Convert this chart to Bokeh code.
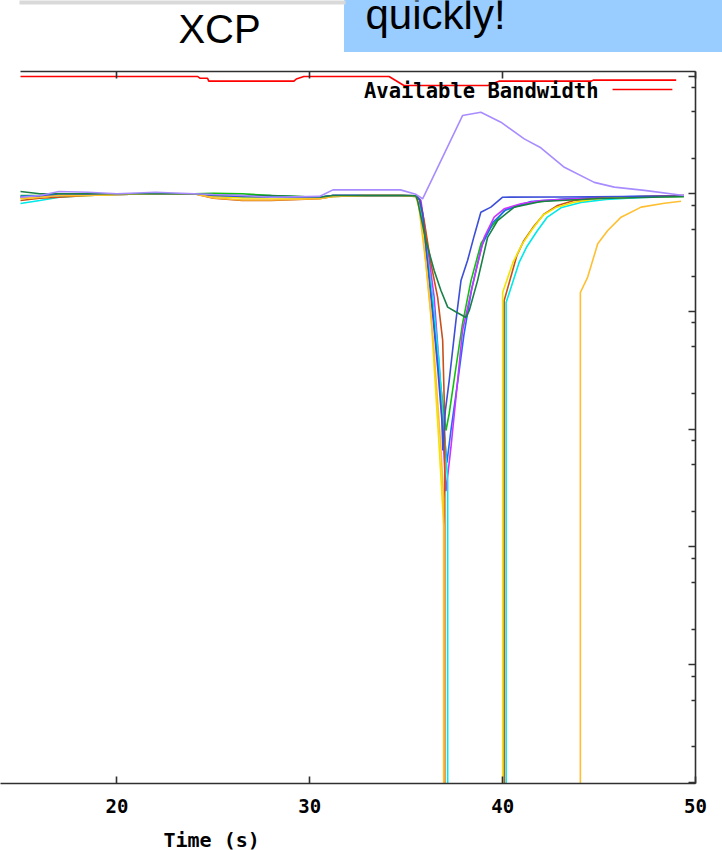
from bokeh.plotting import figure
from bokeh.layouts import column
from bokeh.models import Range1d, LinearAxis, FixedTicker, Label, CustomJSTickFormatter
from bokeh.embed import file_html
from bokeh.resources import INLINE
from bokeh.core.properties import value

# ---------------- data (time in s, throughput on log scale) ----------------
X_TICKS = [20, 30, 40, 50]
Y_MAJOR = [1e-4, 1e-3, 1e-2, 1e-1, 1, 10, 100]
Y_MINOR = [2e-4, 5e-4, 8e-4, 2e-3, 5e-3, 8e-3, 2e-2, 5e-2, 8e-2,
           0.2, 0.5, 0.8, 2, 5, 8, 20, 50, 80]

RED_X = [15.0, 24.19, 24.3, 24.7, 24.76, 29.18, 29.3, 29.69, 34.11, 34.88, 39.24, 39.81, 44.6, 44.7, 49.0]
RED_Y = [99.2, 99.2, 95.9, 95.9, 90.6, 90.6, 94.5, 99.2, 99.2, 83.2, 83.2, 90.6, 90.6, 92.5, 92.5]

T_FLAT = [15.0, 16.0, 17.0, 18.5, 20.0, 22.0, 24.0, 25.0, 26.5, 28.0, 30.5, 31.2, 33.0, 34.7, 35.5]

GREEN_FLAT = [9.67, 9.67, 9.85, 10.0, 10.0, 10.0, 10.0, 10.12, 10.0, 9.67, 9.36, 9.67, 9.67, 9.67, 9.6]
GREEN_X = [35.7, 35.93, 36.28, 36.54, 36.8, 37.06, 37.23, 37.58, 37.92, 38.36, 38.88, 39.4, 40.08, 41.1, 43.02, 46.14, 49.4]
GREEN_Y = [8.9, 4.27, 1.51, 0.567, 0.227, 0.0975, 0.136, 0.336, 0.79, 1.83, 3.78, 5.2, 7.21, 8.27, 8.95, 9.3, 9.48]

BLUE_FLAT = [9.5, 9.67, 9.85, 10.0, 9.85, 10.0, 10.0, 9.67, 9.36, 9.5, 9.36, 9.67, 9.67, 9.67, 9.5]
BLUE_X = [35.7, 35.92, 36.28, 36.59, 36.85, 37.11, 37.32, 37.68, 37.99, 38.4, 38.92, 39.49, 40.16, 41.46, 43.54, 46.65, 49.4]
BLUE_Y = [8.9, 4.87, 1.66, 0.52, 0.145, 0.052, 0.098, 0.26, 0.63, 1.57, 3.63, 5.7, 7.3, 8.6, 9.12, 9.48, 9.67]

MAGENTA_FLAT = [9.36, 9.5, 9.67, 9.85, 9.85, 10.0, 10.0, 9.5, 9.36, 9.36, 9.2, 9.67, 9.67, 9.67, 9.6]
MAGENTA_X = [35.76, 36.11, 36.45, 36.71, 36.89, 37.06, 37.32, 37.58, 37.92, 38.36, 38.7, 39.05, 39.56, 40.08, 40.95, 41.99, 44.06, 47.18, 49.4]
MAGENTA_Y = [8.8, 3.52, 1.32, 0.34, 0.098, 0.0297, 0.0703, 0.187, 0.69, 1.46, 2.54, 4.28, 6.33, 7.46, 8.22, 8.77, 9.12, 9.39, 9.67]

CYAN_FLAT = [8.27, 8.77, 9.36, 9.67, 9.85, 10.0, 10.0, 9.67, 9.36, 9.36, 9.2, 9.5, 9.67, 9.67, 9.5]
CYAN_X = [35.7, 35.92, 36.37, 36.71, 36.97, 37.15, 37.15, 40.18, 40.18, 40.85, 41.26, 41.78, 42.3, 43.02, 44.06, 45.36, 47.18, 49.4]
CYAN_Y = [8.9, 4.87, 1.32, 0.36, 0.098, 0.0364, 1e-7, 1e-7, 1.19, 2.6, 3.57, 4.8, 6.3, 7.6, 8.45, 8.95, 9.3, 9.48]

BROWN_FLAT = [8.77, 9.17, 9.36, 9.67, 9.85, 10.0, 10.0, 9.17, 8.77, 8.77, 9.07, 9.5, 9.67, 9.67, 9.6]
BROWN_X = [35.7, 35.93, 36.28, 36.63, 36.89, 36.97, 37.0, 37.0, 40.08, 40.08, 40.74, 41.1, 41.62, 42.16, 42.85, 43.7, 44.95, 47.18, 49.4]
BROWN_Y = [8.9, 5.93, 2.56, 1.32, 0.57, 0.18, 0.0708, 1e-7, 1e-7, 1.24, 3.0, 4.0, 5.3, 6.76, 7.95, 8.77, 9.21, 9.48, 9.67]

YELLOW_FLAT = [9.07, 9.36, 9.67, 9.67, 9.85, 10.0, 10.0, 9.5, 9.2, 9.2, 9.2, 9.5, 9.67, 9.67, 9.5]
YELLOW_X = [35.59, 35.85, 36.02, 36.28, 36.45, 36.71, 36.89, 36.95, 36.95, 40.0, 40.0, 40.53, 41.0, 41.5, 42.1, 42.8, 43.7, 44.9, 46.8, 49.4]
YELLOW_Y = [8.77, 5.2, 2.56, 0.96, 0.34, 0.0708, 0.0217, 0.015, 1e-7, 1e-7, 1.45, 2.6, 3.7, 4.9, 6.6, 7.7, 8.48, 9.07, 9.36, 9.48]

ROYAL_FLAT = [9.36, 9.5, 9.67, 9.85, 10.0, 10.0, 10.0, 9.67, 9.5, 9.36, 9.36, 9.67, 9.67, 9.67, 9.6]
ROYAL_X = [35.7, 35.85, 36.11, 36.37, 36.63, 36.85, 36.9, 37.03, 37.23, 37.58, 37.84, 38.18, 38.53, 38.87, 39.39, 40.0, 43.03, 49.4]
ROYAL_Y = [8.9, 6.8, 2.56, 0.96, 0.334, 0.119, 0.066, 0.144, 0.26, 0.84, 1.83, 2.71, 4.43, 6.98, 7.7, 9.36, 9.39, 9.58]

ORANGE_FLAT = [9.17, 9.36, 9.67, 9.67, 9.85, 10.0, 10.0, 9.2, 8.86, 8.86, 9.07, 9.5, 9.67, 9.67, 9.5]
ORANGE_X = [35.66, 36.02, 36.43, 36.8, 36.94, 36.94, 44.03, 44.03, 44.41, 44.93, 45.45, 46.14, 47.18, 48.39, 49.25]
ORANGE_Y = [7.65, 2.56, 0.5, 0.07, 0.0257, 1e-7, 1e-7, 1.45, 1.96, 3.76, 4.88, 6.33, 7.7, 8.32, 8.65]

DKGREEN_FLAT = [10.46, 10.0, 10.0, 10.0, 10.0, 10.0, 10.0, 9.85, 9.67, 9.67, 9.36, 9.67, 9.67, 9.67, 9.6]
DKGREEN_X = [35.59, 36.02, 36.45, 36.8, 37.15, 37.63, 38.1, 38.27, 38.7, 39.22, 39.74, 40.6, 41.99, 45.1, 49.4]
DKGREEN_Y = [8.77, 4.01, 2.23, 1.51, 1.09, 0.98, 0.89, 1.02, 1.83, 4.27, 5.93, 7.7, 8.6, 9.12, 9.48]

LAVENDER_FLAT = [9.36, 9.67, 10.46, 10.3, 10.0, 10.3, 10.0, 9.85, 9.67, 9.36, 9.5, 10.8, 10.8, 10.8, 9.9]
LAVENDER_X = [35.85, 37.92, 38.87, 39.91, 41.12, 41.98, 43.2, 44.75, 45.79, 47.35, 49.4]
LAVENDER_Y = [9.07, 46.2, 49.3, 40.6, 29.3, 24.6, 16.8, 12.5, 11.4, 10.7, 9.67]

# ---------------- styling / layout constants ----------------
W = 722
FRAME_RIGHT = 695          # page x of the plot's right border (layout aligns all rows to it)
BLUE_LEFT = 344            # page x where the slide's blue box starts
BORDER = "#303030"
MONO = "DejaVu Sans Mono"
SLIDE_BLUE = "#99ccff"

FLOWS = [
    (GREEN_FLAT, GREEN_X, GREEN_Y, "#10c010"),
    (BLUE_FLAT, BLUE_X, BLUE_Y, "#1a6cff"),
    (MAGENTA_FLAT, MAGENTA_X, MAGENTA_Y, "#cc33ff"),
    (CYAN_FLAT, CYAN_X, CYAN_Y, "#00e8e8"),
    (BROWN_FLAT, BROWN_X, BROWN_Y, "#c8501a"),
    (YELLOW_FLAT, YELLOW_X, YELLOW_Y, "#f0e400"),
    (ROYAL_FLAT, ROYAL_X, ROYAL_Y, "#3c4fd8"),
    (ORANGE_FLAT, ORANGE_X, ORANGE_Y, "#ffbf30"),
    (DKGREEN_FLAT, DKGREEN_X, DKGREEN_Y, "#1a8048"),
    (LAVENDER_FLAT, LAVENDER_X, LAVENDER_Y, "#a88cff"),
]

# ---------------- header (slide title strip; coordinates = page pixels) ----------------
h = figure(width=W, height=52, x_range=Range1d(0, FRAME_RIGHT), y_range=Range1d(52, 0),
           output_backend="svg", toolbar_location=None,
           x_axis_location=None, y_axis_location=None, min_border=0)
h.outline_line_color = None
h.grid.visible = False
h.background_fill_alpha = 0
h.border_fill_alpha = 0
h.styles = {"background": f"linear-gradient(to right, #ffffff {BLUE_LEFT}px, {SLIDE_BLUE} {BLUE_LEFT}px)"}
h.quad(left=[BLUE_LEFT], right=[FRAME_RIGHT + 10], top=[-5], bottom=[60],
       fill_color=SLIDE_BLUE, line_color=None)
h.quad(left=[19], right=[345], top=[-5], bottom=[4], fill_color="#d9d9d9", line_color=None)
h.text(x=[365], y=[14], text=["quickly!"], text_font=value("Liberation Sans"),
       text_font_size=value("42px"), text_align="left", text_baseline="middle",
       text_color="black")
h.text(x=[219], y=[28], text=["XCP"], text_font=value("Liberation Sans"),
       text_font_size=value("40px"), text_align="center", text_baseline="middle",
       text_color="black")

# ---------------- main plot ----------------
X_VIEW_START = 13.963      # page x = 0 (data start at 15 s sits 20 px in)
p = figure(width=W, height=774, x_range=Range1d(X_VIEW_START, 50.0), y_range=Range1d(9.77e-5, 109.4),
           y_axis_type="log", y_axis_location="right", output_backend="svg",
           toolbar_location=None, min_border_left=0, min_border_right=W - FRAME_RIGHT,
           min_border_top=19, min_border_bottom=43)
p.outline_line_color = None
p.xgrid.visible = False
p.ygrid.visible = False
p.background_fill_color = "white"
p.border_fill_color = "white"

xa = p.xaxis[0]
xa.ticker = FixedTicker(ticks=X_TICKS, minor_ticks=[])
xa.major_tick_in = 7
xa.major_tick_out = 0
xa.minor_tick_in = 0
xa.minor_tick_out = 0
xa.axis_line_color = BORDER
xa.axis_line_width = 1.6
xa.major_tick_line_color = BORDER
xa.major_tick_line_width = 1.6
xa.major_label_text_font = MONO
xa.major_label_text_font_style = "bold"
xa.major_label_text_font_size = "19px"
xa.major_label_text_color = "black"
xa.major_label_standoff = 15

ya = p.yaxis[0]
ya.ticker = FixedTicker(ticks=Y_MAJOR, minor_ticks=Y_MINOR)
ya.formatter = CustomJSTickFormatter(code="return ''")
ya.major_tick_in = 7
ya.major_tick_out = 0
ya.minor_tick_in = 4
ya.minor_tick_out = 0
ya.axis_line_color = BORDER
ya.axis_line_width = 1.6
ya.major_tick_line_color = BORDER
ya.major_tick_line_width = 1.6
ya.minor_tick_line_color = BORDER
ya.minor_tick_line_width = 1.6

top = LinearAxis(ticker=FixedTicker(ticks=X_TICKS, minor_ticks=[]),
                 formatter=CustomJSTickFormatter(code="return ''"),
                 bounds=(15.0, 50.0),
                 major_tick_in=7, major_tick_out=0, minor_tick_in=0, minor_tick_out=0,
                 axis_line_color=BORDER, axis_line_width=1.6,
                 major_tick_line_color=BORDER, major_tick_line_width=1.6)
p.add_layout(top, "above")

p.line(RED_X, RED_Y, line_color="#ff0000", line_width=1.6)
for flat, dx, dy, col in FLOWS:
    p.line(T_FLAT + dx, flat + dy, line_color=col, line_width=1.6)

# key (gnuplot style: text then sample line)
LEGEND_TEXT_X = 44.97
LEGEND_Y = 75.4
KEY_X = [45.7, 48.8]
KEY_Y = [76.9, 76.9]
p.add_layout(Label(x=LEGEND_TEXT_X, y=LEGEND_Y, text="Available Bandwidth",
                   text_align="right", text_baseline="middle", text_font=MONO,
                   text_font_style="bold", text_font_size="20.5px", text_color="black"))
p.line(KEY_X, KEY_Y, line_color="#ff0000", line_width=1.6)

# ---------------- footer (x axis title, off-centre as in the source) ----------------
f = figure(width=W, height=24, x_range=Range1d(0, FRAME_RIGHT), y_range=Range1d(850, 826),
           output_backend="svg", toolbar_location=None,
           x_axis_location=None, y_axis_location=None, min_border=0)
f.outline_line_color = None
f.grid.visible = False
f.background_fill_color = "white"
f.border_fill_color = "white"
f.text(x=[163], y=[839], text=["Time (s)"], text_font=value(MONO),
       text_font_style="bold", text_font_size=value("20px"), text_align="left",
       text_baseline="middle", text_color="black")

layout = column(h, p, f, spacing=0)
open("out.html", "w").write(file_html(layout, INLINE))
